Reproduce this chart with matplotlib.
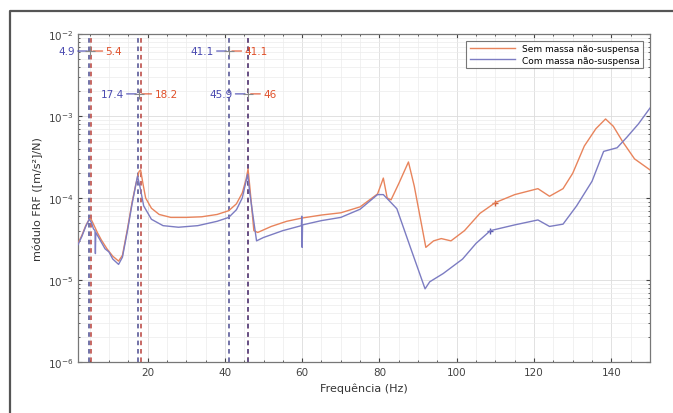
import numpy as np
import matplotlib
matplotlib.use("Agg")
import matplotlib.pyplot as plt
from matplotlib.lines import Line2D

# FRF curves (Hz, [m/s^2]/N)
f_sem = [2, 3, 4, 5.0, 5.4, 6, 7, 8, 9.5, 11, 12.5, 13.5, 14.8, 16, 17, 17.8, 18.2,
         18.8, 19.5, 21, 23, 26, 30, 34, 38, 41, 43, 44.5, 45.5, 46, 46.5, 47.5, 48.5,
         52, 56, 60, 65, 70, 75, 79.5, 80.5, 81, 82, 83, 85, 87.5, 89, 92, 94, 96,
         98.5, 102, 106, 110, 115, 121, 124, 127.5, 130, 133, 136, 138.5, 140.5, 143,
         146, 150]
v_sem = [2.8e-5, 3.5e-5, 4.6e-5, 5.6e-5, 5.5e-5, 4.8e-5, 3.8e-5, 3.1e-5, 2.4e-5,
         1.95e-5, 1.7e-5, 2.0e-5, 4.2e-5, 8.9e-5, 1.5e-4, 2.1e-4, 2.2e-4, 1.5e-4,
         1.0e-4, 7.5e-5, 6.3e-5, 5.8e-5, 5.8e-5, 5.9e-5, 6.3e-5, 7.0e-5, 8.5e-5,
         1.15e-4, 1.7e-4, 2.25e-4, 1.3e-4, 4.0e-5, 3.8e-5, 4.5e-5, 5.2e-5, 5.7e-5,
         6.2e-5, 6.6e-5, 7.8e-5, 1.12e-4, 1.5e-4, 1.75e-4, 1.0e-4, 9.5e-5, 1.5e-4,
         2.75e-4, 1.4e-4, 2.5e-5, 3.0e-5, 3.2e-5, 3.0e-5, 4.0e-5, 6.5e-5, 8.8e-5,
         1.1e-4, 1.3e-4, 1.05e-4, 1.3e-4, 2.0e-4, 4.3e-4, 7.0e-4, 9.2e-4, 7.5e-4,
         4.8e-4, 3.0e-4, 2.2e-4]

f_com = [2, 3, 4, 4.9, 5.5, 6, 6.4, 6.5, 6.6, 7.5, 9, 10, 11, 12.5, 13.5, 14.8, 16,
         17.4, 18, 19, 21, 24, 28, 33, 38, 41, 43, 44.5, 45.9, 46.5, 48.2, 50, 55,
         59.8, 59.9, 60, 60.1, 65, 70, 75, 79.5, 81, 82.3, 84.5, 88, 91.8, 93, 96.5,
         101.5, 105, 108.7, 115, 121, 124, 127.5, 131, 135, 138, 141.5, 144, 147, 150]
v_com = [2.7e-5, 3.4e-5, 4.5e-5, 5.5e-5, 5.0e-5, 4.2e-5, 4.0e-5, 2.1e-5, 3.8e-5,
         3.2e-5, 2.4e-5, 2.2e-5, 1.8e-5, 1.55e-5, 1.9e-5, 4.0e-5, 8.5e-5, 1.85e-4,
         1.4e-4, 8.0e-5, 5.5e-5, 4.6e-5, 4.4e-5, 4.6e-5, 5.2e-5, 5.8e-5, 7.2e-5,
         1.0e-4, 1.95e-4, 1.1e-4, 3.0e-5, 3.3e-5, 4.0e-5, 4.6e-5, 6.0e-5, 2.5e-5,
         4.7e-5, 5.3e-5, 5.8e-5, 7.3e-5, 1.1e-4, 1.1e-4, 9.5e-5, 7.4e-5, 2.5e-5,
         7.8e-6, 9.5e-6, 1.2e-5, 1.8e-5, 2.8e-5, 4.0e-5, 4.7e-5, 5.4e-5, 4.5e-5,
         4.8e-5, 8.0e-5, 1.6e-4, 3.7e-4, 4.1e-4, 5.5e-4, 8.0e-4, 1.25e-3]

# peak markers (blue value, red value, row height)
blue_peaks = [4.9, 41.1, 17.4, 45.9]
red_peaks = [5.4, 41.1, 18.2, 46]
label_rows = [6.2e-3, 6.2e-3, 1.86e-3, 1.86e-3]
blue_lines = [4.9, 17.4, 41.1, 45.9]
red_lines = [5.4, 18.2, 46]

xticks = [20, 40, 60, 80, 100, 120, 140]
yticks = [1e-6, 1e-5, 1e-4, 1e-3, 1e-2]

c_sem = "#e8845c"
c_com = "#7c7cc2"
c_blue_txt = "#4a4ab0"
c_red_txt = "#e0502a"

fig = plt.figure(figsize=(6.73, 4.14), dpi=100)
ax = fig.add_axes([78 / 673, 51 / 414, 572 / 673, 328 / 414])

# outer frame of the screenshot
fig.add_artist(Line2D([10 / 673, 10 / 673, 1.0], [0.0, 1 - 12 / 414, 1 - 12 / 414],
                      transform=fig.transFigure, color="#555555", lw=1.6))

ax.set_yscale("log")
ax.set_xlim(2, 150)
ax.set_ylim(1e-6, 1e-2)

for f in red_lines:
    ax.axvline(f, color="#b8403a", ls=(0, (3, 2.5)), lw=1.1, zorder=2)
for f in blue_lines:
    ax.axvline(f, color="#4b4b90", ls=(0, (3, 2.5)), lw=1.1, zorder=2)

ax.plot(f_sem, v_sem, color=c_sem, lw=1.0, label="Sem massa não-suspensa", zorder=3)
ax.plot(f_com, v_com, color=c_com, lw=1.0, label="Com massa não-suspensa", zorder=3)
ax.plot([110], [8.8e-5], marker="+", color="#d0603a", ms=4, mew=1)
ax.plot([108.7], [4.0e-5], marker="+", color="#5a5ab0", ms=4, mew=1)

for fb, fr, yr in zip(blue_peaks, red_peaks, label_rows):
    fx = (fb + fr) / 2
    ax.plot([fx], [yr], marker="+", color="#888888", ms=7, mew=0.8, zorder=4)
    ax.annotate("", xy=(fx, yr), xytext=(-11, 0), textcoords="offset points",
                arrowprops=dict(arrowstyle="-", color=c_blue_txt, lw=0.8))
    ax.annotate("", xy=(fx, yr), xytext=(11, 0), textcoords="offset points",
                arrowprops=dict(arrowstyle="-", color=c_red_txt, lw=0.8))
    ax.annotate(f"{fb:g}", xy=(fx, yr), xytext=(-11, 0), textcoords="offset points",
                ha="right", va="center", color=c_blue_txt, fontsize=7.5)
    ax.annotate(f"{fr:g}", xy=(fx, yr), xytext=(11, 0), textcoords="offset points",
                ha="left", va="center", color=c_red_txt, fontsize=7.5)

ax.set_xticks(xticks)
ax.set_yticks(yticks)
ax.set_yticklabels([r"$10^{-6}$", r"$10^{-5}$", r"$10^{-4}$", r"$10^{-3}$", r"$10^{-2}$"])
ax.xaxis.set_minor_locator(matplotlib.ticker.MultipleLocator(5))
ax.tick_params(which="both", direction="in", top=True, right=True,
               colors="#444444", labelsize=7.5, length=3)
ax.tick_params(which="minor", length=1.5)
ax.grid(which="major", color="#dcdcdc", lw=0.6)
ax.grid(which="minor", color="#ececec", lw=0.5)
ax.set_axisbelow(True)
for s in ax.spines.values():
    s.set_color("#777777")
    s.set_linewidth(0.9)

ax.set_xlabel("Frequência (Hz)", fontsize=8, color="#333333", labelpad=4)
ax.set_ylabel("módulo FRF ([m/s²]/N)", fontsize=8, color="#333333", labelpad=3)

leg = ax.legend(loc="upper right", fontsize=6.5, frameon=True, fancybox=False,
                borderaxespad=0.8, handlelength=5.0, borderpad=0.35, labelspacing=0.25)
leg.get_frame().set_edgecolor("#555555")
leg.get_frame().set_linewidth(0.8)

fig.savefig("out.png", dpi=100)
